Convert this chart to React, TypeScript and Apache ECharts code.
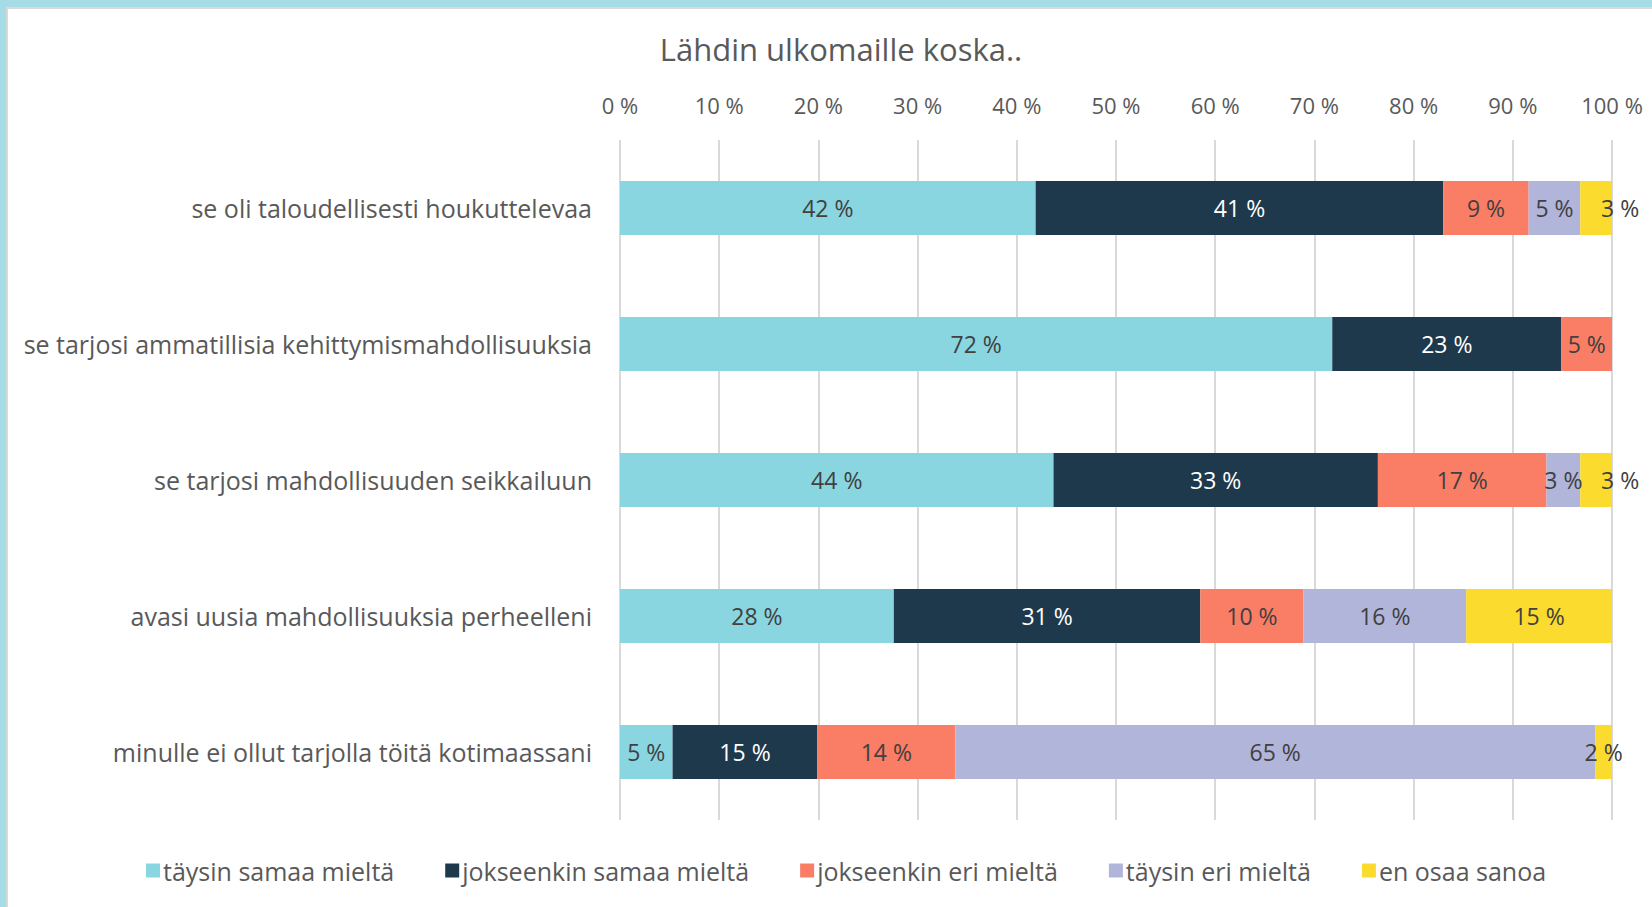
import React, { useEffect, useRef } from "react";
import * as echarts from "echarts";

const categories = [
  "se oli taloudellisesti houkuttelevaa",
  "se tarjosi ammatillisia kehittymismahdollisuuksia",
  "se tarjosi mahdollisuuden seikkailuun",
  "avasi uusia mahdollisuuksia perheelleni",
  "minulle ei ollut tarjolla töitä kotimaassani",
];

const seriesNames = [
  "täysin samaa mieltä",
  "jokseenkin samaa mieltä",
  "jokseenkin eri mieltä",
  "täysin eri mieltä",
  "en osaa sanoa",
];

const taysinSamaa = [41.9, 71.8, 43.7, 27.6, 5.3];
const jokseenkinSamaa = [41.1, 23.1, 32.7, 30.9, 14.6];
const jokseenkinEri = [8.6, 5.1, 17.0, 10.4, 13.9];
const taysinEri = [5.2, 0, 3.4, 16.4, 64.5];
const enOsaa = [3.2, 0, 3.2, 14.7, 1.7];

const seriesValues = [taysinSamaa, jokseenkinSamaa, jokseenkinEri, taysinEri, enOsaa];
const colors = ["#8AD6E0", "#1F394C", "#FA7D66", "#B2B5DA", "#FADB2E"];
const labelColors = ["#404040", "#FFFFFF", "#404040", "#404040", "#404040"];

const FONT = "'Open Sans', 'Noto Sans', sans-serif";

export default function App() {
  const ref = useRef<HTMLDivElement>(null);
  useEffect(() => {
    if (!ref.current) return;
    const chart = echarts.init(ref.current, null, { renderer: "svg" });
    chart.setOption({
      animation: false,
      backgroundColor: "#ffffff",
      textStyle: { fontFamily: FONT },
      title: {
        text: "Lähdin ulkomaille koska..",
        left: 836,
        textAlign: "center",
        top: 28,
        textStyle: { fontSize: 31, fontWeight: "normal", color: "#595959", fontFamily: FONT },
      },
      graphic: [
        { type: "rect", shape: { x: 0, y: 0, width: 1652, height: 7 }, style: { fill: "#A5DCE6" } },
        { type: "rect", shape: { x: 0, y: 0, width: 6, height: 907 }, style: { fill: "#A5DCE6" } },
        { type: "rect", shape: { x: 6, y: 7, width: 1646, height: 2 }, style: { fill: "#D9D9D9" } },
        { type: "rect", shape: { x: 6, y: 7, width: 2, height: 900 }, style: { fill: "#D9D9D9" } },
      ],
      legend: {
        data: seriesNames,
        bottom: 19,
        left: 141,
        itemWidth: 14,
        itemHeight: 14,
        itemGap: 51,
        icon: "rect",
        textStyle: { fontSize: 25, color: "#595959", fontFamily: FONT, padding: [0, 0, 0, -2] },
      },
      grid: { left: 620, right: 40, top: 140, height: 680 },
      xAxis: {
        type: "value",
        position: "top",
        min: 0,
        max: 100,
        interval: 10,
        axisLine: { show: false },
        axisTick: { show: false },
        axisLabel: { formatter: "{value} %", fontSize: 22, color: "#595959", margin: 24, fontFamily: FONT },
        splitLine: { lineStyle: { color: "#D9D9D9", width: 2 } },
      },
      yAxis: {
        type: "category",
        inverse: true,
        data: categories,
        axisLine: { show: false },
        axisTick: { show: false },
        axisLabel: { fontSize: 25, color: "#595959", margin: 28, fontFamily: FONT },
      },
      series: seriesNames.map((name, i) => ({
        name,
        type: "bar",
        stack: "total",
        barWidth: 54,
        data: seriesValues[i].map((v) => {
          if (!(v > 0)) return null;
          if (i === 4 && v >= 3 && v < 5) {
            return { value: v, label: { offset: [24, 0] } };
          }
          return v;
        }),
        itemStyle: { color: colors[i] },
        label: {
          show: true,
          position: "inside",
          formatter: (p: any) => Math.round(p.value) + " %",
          fontSize: 23,
          color: labelColors[i],
          fontFamily: FONT,
        },
      })),
    });
    return () => chart.dispose();
  }, []);
  return (
    <div
      ref={ref}
      style={{ position: "fixed", left: 0, top: 0, width: 1652, height: 907, background: "#fff" }}
    />
  );
}
